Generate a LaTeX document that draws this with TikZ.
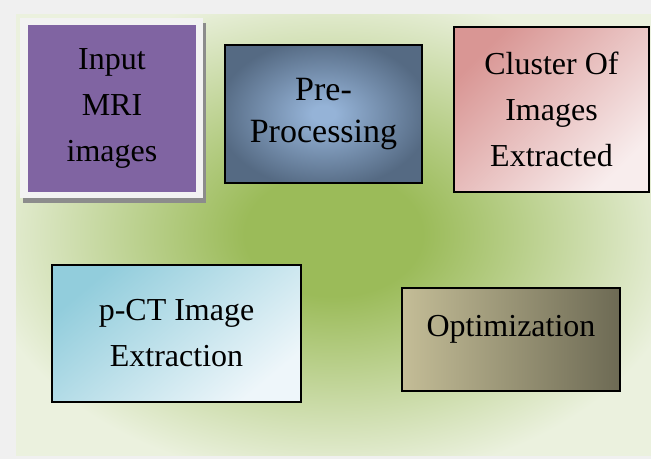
\documentclass[tikz,border=0pt]{standalone}
\usepackage{fontspec}
\setmainfont{Liberation Serif}
\usetikzlibrary{shadows}

\definecolor{pagegray}{HTML}{F0F0F0}
\definecolor{bggreen}{HTML}{9BBB59}
\definecolor{bglight}{HTML}{EBF1DE}
\definecolor{mripurple}{HTML}{8064A2}
\definecolor{framewhite}{HTML}{F2F2F2}
\definecolor{shadowgray}{HTML}{8C8C8C}
\definecolor{prelight}{HTML}{95B3D7}
\definecolor{predark}{HTML}{556A83}
\definecolor{clusterdark}{HTML}{D99694}
\definecolor{clusterlight}{HTML}{F8EDED}
\definecolor{pctdark}{HTML}{92CDDC}
\definecolor{pctlight}{HTML}{EEF6FA}
\definecolor{optlight}{HTML}{C4BD97}
\definecolor{optdark}{HTML}{6D6A54}

\pgfdeclareradialshading{bgglow}{\pgfpoint{0bp}{0bp}}{color(0bp)=(bggreen); color(7bp)=(bggreen); color(28bp)=(bglight); color(70bp)=(bglight)}
\pgfdeclareradialshading{preglow}{\pgfpoint{0bp}{0bp}}{color(0bp)=(prelight); color(3bp)=(prelight); color(27bp)=(predark); color(70bp)=(predark)}

\begin{document}
\begin{tikzpicture}[x=1pt,y=1pt,inner sep=0pt,font=\fontsize{32}{46}\selectfont]
  \tikzstyle{box}=[draw=black,line width=1.3pt,align=center]
  \tikzstyle{frame}=[fill=framewhite,drop shadow={shadow xshift=3pt,shadow yshift=-5pt,fill=shadowgray,opacity=1}]

  % page and glow
  \fill[pagegray] (0,0) rectangle (651,-459);
  \shade[shading=bgglow] (16,-14) rectangle (651,-455);

  % top row
  \node[frame,minimum width=183pt,minimum height=180pt] (mriframe) at (111.5,-108) {};
  \node[fill=mripurple,align=center,minimum width=168pt,minimum height=167pt] (mri) at (112,-108.5) {Input\\MRI\\images};
  \node[box,shading=preglow,minimum width=197pt,minimum height=138pt,font=\fontsize{34}{42}\selectfont] (pre) at (323.5,-114) {Pre-\\Processing};
  \node[box,shade,top color=clusterdark,bottom color=clusterlight,shading angle=45,minimum width=195pt,minimum height=165pt] (cluster) at (551.5,-109.5) {Cluster Of\\Images\\Extracted};

  % bottom row
  \node[box,shade,top color=pctdark,bottom color=pctlight,shading angle=40,minimum width=249pt,minimum height=137pt] (pct) at (176.5,-333.5) {p-CT Image\\Extraction};
  \node[box,left color=optlight,right color=optdark,minimum width=218pt,minimum height=103pt,text depth=27pt] (opt) at (511,-339.5) {Optimization};

  \useasboundingbox (0,0) rectangle (651,-459);
\end{tikzpicture}
\end{document}
